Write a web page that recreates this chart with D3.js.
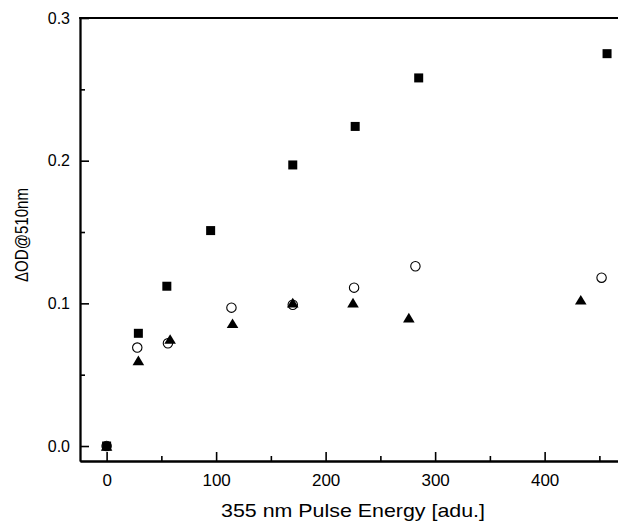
<!DOCTYPE html>
<html>
<head>
<meta charset="utf-8">
<script src="https://cdn.jsdelivr.net/npm/d3@7"></script>
<style>
  body { margin: 0; background: #fff; }
  svg { display: block; font-family: "Liberation Sans", Arial, sans-serif; }
</style>
</head>
<body>
<div id="vis"></div>
<script>
// values: pulse energy [adu.] and dOD at 510 nm
var energySquare = [0, 29, 55, 95, 170, 227, 285, 457];
var odSquare     = [0, 0.079, 0.112, 0.151, 0.197, 0.224, 0.258, 0.275];
var energyCircle = [0, 28, 56, 114, 170, 226, 282, 452];
var odCircle     = [0, 0.069, 0.072, 0.097, 0.099, 0.111, 0.126, 0.118];
var energyTri    = [0, 29, 58, 115, 170, 225, 276, 433];
var odTri        = [0, 0.060, 0.075, 0.086, 0.1005, 0.1005, 0.090, 0.1025];

var xMajor = [0, 100, 200, 300, 400];
var xMinor = [50, 150, 250, 350, 450];
var yMajor = [0, 0.1, 0.2, 0.3];
var yMinor = [0.05, 0.15, 0.25];

var width = 618, height = 523;
var plotLeft = 80, plotTop = 18, plotBottom = 461, plotRight = 618;

var svg = d3.select("#vis").append("svg")
    .attr("width", width)
    .attr("height", height);

var x = d3.scaleLinear().domain([-24.3, 467]).range([plotLeft, plotRight]);
var y = d3.scaleLinear().domain([-0.0105, 0.3]).range([plotBottom, plotTop]);

// axes, ticks pointing inward
var gx = svg.append("g").attr("transform", "translate(0," + plotBottom + ")");
gx.call(d3.axisBottom(x).tickValues(xMajor).tickFormat(d3.format("d"))
    .tickSizeInner(-9).tickSizeOuter(0).tickPadding(13));
var gxm = svg.append("g").attr("transform", "translate(0," + plotBottom + ")");
gxm.call(d3.axisBottom(x).tickValues(xMinor).tickFormat("")
    .tickSizeInner(-5).tickSizeOuter(0));

var gy = svg.append("g").attr("transform", "translate(" + plotLeft + ",0)");
gy.call(d3.axisLeft(y).tickValues(yMajor).tickFormat(d3.format(".1f"))
    .tickSizeInner(-9).tickSizeOuter(0).tickPadding(10));
var gym = svg.append("g").attr("transform", "translate(" + plotLeft + ",0)");
gym.call(d3.axisLeft(y).tickValues(yMinor).tickFormat("")
    .tickSizeInner(-5).tickSizeOuter(0));

svg.selectAll(".domain").attr("stroke", "#000").attr("stroke-width", 1.8);
svg.selectAll(".tick line").attr("stroke", "#000").attr("stroke-width", 1.6);
gx.selectAll(".tick text").attr("font-size", 17).attr("fill", "#000")
    .attr("font-family", "Liberation Sans, Arial, sans-serif");
gy.selectAll(".tick text").attr("font-size", 16).attr("fill", "#000")
    .attr("font-family", "Liberation Sans, Arial, sans-serif");

// top border
svg.append("line")
    .attr("x1", plotLeft - 0.9).attr("x2", plotRight)
    .attr("y1", plotTop).attr("y2", plotTop)
    .attr("stroke", "#000").attr("stroke-width", 1.8);

// axis titles
svg.append("text")
    .attr("x", 353).attr("y", 517)
    .attr("text-anchor", "middle")
    .attr("font-size", 19)
    .attr("textLength", 264)
    .attr("lengthAdjust", "spacingAndGlyphs")
    .text("355 nm Pulse Energy [adu.]");

svg.append("text")
    .attr("transform", "translate(28,235) rotate(-90)")
    .attr("text-anchor", "middle")
    .attr("font-size", 18)
    .attr("textLength", 94)
    .attr("lengthAdjust", "spacingAndGlyphs")
    .text("\u0394OD@510nm");

// markers: circles first, then squares, triangles on top
var plot = svg.append("g");

plot.selectAll(".circ").data(d3.zip(energyCircle, odCircle)).enter()
    .append("circle")
    .attr("class", "circ")
    .attr("cx", function(d){ return x(d[0]); })
    .attr("cy", function(d){ return y(d[1]); })
    .attr("r", 4.7)
    .attr("fill", "#fff")
    .attr("stroke", "#000")
    .attr("stroke-width", 1.1);

plot.selectAll(".sq").data(d3.zip(energySquare, odSquare)).enter()
    .append("rect")
    .attr("class", "sq")
    .attr("x", function(d){ return x(d[0]) - 4.5; })
    .attr("y", function(d){ return y(d[1]) - 4.5; })
    .attr("width", 9).attr("height", 9)
    .attr("fill", "#000");

plot.selectAll(".tri").data(d3.zip(energyTri, odTri)).enter()
    .append("path")
    .attr("class", "tri")
    .attr("d", "M0,-4.8L5.8,4.8L-5.8,4.8Z")
    .attr("transform", function(d){ return "translate(" + x(d[0]) + "," + y(d[1]) + ")"; })
    .attr("fill", "#000");
</script>
</body>
</html>
